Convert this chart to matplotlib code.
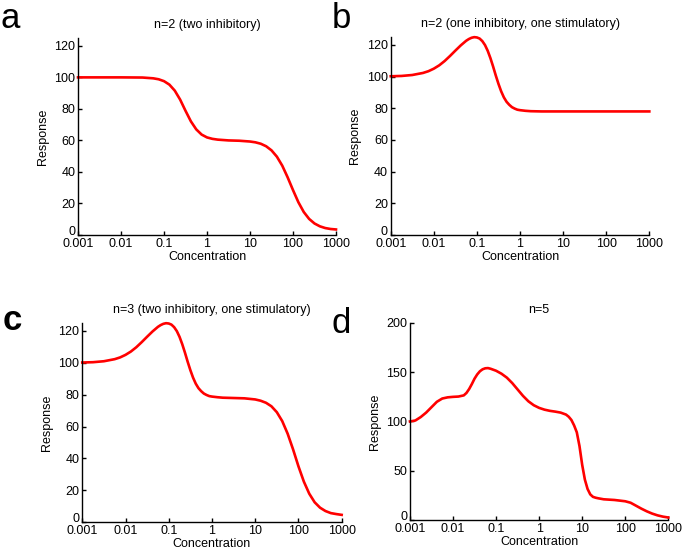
import numpy as np
import matplotlib
matplotlib.use('Agg')
import matplotlib.pyplot as plt
import matplotlib.transforms as mtransforms

# ---------------------- Data Zone ---------------------- #
# x positions are log10(concentration), responses read off the curves
log_conc_a = [-3, -2.5, -2, -1.5, -1.25, -1.125, -1, -0.875, -0.75, -0.625, -0.5, -0.375,
              -0.25, -0.125, 0, 0.125, 0.25, 0.5, 0.75, 1, 1.125, 1.25, 1.375, 1.5, 1.625,
              1.75, 1.875, 2, 2.125, 2.25, 2.375, 2.5, 2.625, 2.75, 2.875, 3]
resp_a = [100, 100, 100, 99.9, 99.4, 98.8, 97.6, 95.4, 91.6, 85.9, 78.8, 72.1,
          67.0, 63.7, 61.9, 61.0, 60.5, 60.0, 59.8, 59.3, 58.8, 57.9, 56.3, 53.7, 49.7,
          44.0, 36.6, 28.5, 20.8, 14.6, 10.2, 7.3, 5.5, 4.4, 3.8, 3.5]

log_conc_b = [-3, -2.75, -2.5, -2.25, -2.125, -2, -1.875, -1.75, -1.625, -1.5, -1.375, -1.25,
              -1.1875, -1.125, -1.0625, -1, -0.9375, -0.875, -0.8125, -0.75, -0.6875, -0.625,
              -0.5625, -0.5, -0.4375, -0.375, -0.3125, -0.25, -0.1875, -0.125, -0.0625, 0,
              0.125, 0.25, 0.5, 1, 1.5, 2, 2.5, 3]
resp_b = [100.2, 100.4, 101.0, 102.3, 103.4, 105.0, 107.1, 109.8, 113.0, 116.4, 119.7, 122.6,
          123.7, 124.5, 124.9, 124.7, 124.0, 122.4, 119.9, 116.3, 111.7, 106.4,
          100.7, 95.4, 90.7, 86.9, 84.1, 82.2, 80.7, 79.8, 79.1, 78.8,
          78.4, 78.15, 78.0, 78.0, 78.0, 78.0, 78.0, 78.0]

log_conc_c = [-3, -2.75, -2.5, -2.25, -2.125, -2, -1.875, -1.75, -1.625, -1.5, -1.375, -1.25,
              -1.1875, -1.125, -1.0625, -1, -0.9375, -0.875, -0.8125, -0.75, -0.6875, -0.625,
              -0.5625, -0.5, -0.4375, -0.375, -0.3125, -0.25, -0.1875, -0.125, -0.0625, 0,
              0.125, 0.25, 0.5, 0.75, 1, 1.125, 1.25, 1.375, 1.5, 1.625, 1.75, 1.875, 2,
              2.125, 2.25, 2.375, 2.5, 2.625, 2.75, 2.875, 3]
resp_c = [100.2, 100.4, 101.0, 102.3, 103.4, 105.0, 107.1, 109.8, 113.0, 116.4, 119.7, 122.6,
          123.7, 124.5, 124.9, 124.7, 124.0, 122.4, 119.9, 116.3, 111.7, 106.4,
          100.7, 95.4, 90.7, 86.9, 84.1, 82.2, 80.7, 79.8, 79.1, 78.8,
          78.4, 78.1, 77.9, 77.7, 77.0, 76.2, 74.9, 72.7, 69.0, 63.4, 55.5, 45.7, 35.0,
          25.4, 17.8, 12.4, 9.0, 6.9, 5.6, 5.0, 4.5]

log_conc_d = [-3, -2.875, -2.75, -2.625, -2.5, -2.375, -2.25, -2.125, -2, -1.875, -1.75,
              -1.6875, -1.625, -1.5625, -1.5, -1.4375, -1.375, -1.3125, -1.25, -1.1875, -1.125,
              -1, -0.875, -0.75, -0.625, -0.5, -0.375, -0.25, -0.125, 0, 0.125, 0.25, 0.375,
              0.5, 0.625, 0.6875, 0.75, 0.8125, 0.875, 0.9375, 1, 1.0625, 1.125, 1.1875, 1.25,
              1.3125, 1.375, 1.5, 1.75, 2, 2.125, 2.25, 2.375, 2.5, 2.625, 2.75, 2.875, 3]
resp_d = [100, 101, 104.5, 109, 114.5, 120, 123.3, 124.5, 125, 125.3, 126.5,
          129, 133, 138, 143.5, 147.8, 151, 153, 154, 154.2, 153.5,
          151.5, 148.5, 144.5, 139, 132.5, 126, 120.5, 116.5, 113.8, 112, 110.8, 110,
          109, 107, 104.8, 101.5, 96, 89, 75, 56, 41, 31.5, 26, 23.5,
          22.6, 22, 21, 20.3, 19, 17.5, 14.5, 11.5, 8.8, 6.5, 4.7, 3.4, 2.5]

titles = ['n=2 (two inhibitory)', 'n=2 (one inhibitory, one stimulatory)',
          'n=3 (two inhibitory, one stimulatory)', 'n=5']
letters = ['a', 'b', 'c', 'd']
xtick_vals = [0.001, 0.01, 0.1, 1, 10, 100, 1000]
xtick_labels = ['0.001', '0.01', '0.1', '1', '10', '100', '1000']

# ---------------------- Plot Zone ---------------------- #
plt.rcParams['font.family'] = ['Liberation Sans', 'DejaVu Sans']
fig = plt.figure(figsize=(6.85, 5.52), dpi=100)

# axes boxes in figure fractions [left, bottom, width, height]
boxes = [[0.1139, 0.5743, 0.3766, 0.3569],
         [0.5704, 0.5743, 0.3775, 0.3587],
         [0.1201, 0.0543, 0.3787, 0.3605],
         [0.5985, 0.0580, 0.3771, 0.3569]]
series = [(log_conc_a, resp_a), (log_conc_b, resp_b), (log_conc_c, resp_c), (log_conc_d, resp_d)]
ylims = [(0, 125), (0, 125), (0, 125), (0, 200)]
yticks = [np.arange(0, 121, 20)] * 3 + [np.arange(0, 201, 50)]

# small upward nudge for the "0" y label so it sits above "0.001"
zero_shift = mtransforms.ScaledTranslation(0, 0.045, fig.dpi_scale_trans)

for i in range(4):
    ax = fig.add_axes(boxes[i])
    lc, r = series[i]
    ax.plot(10.0 ** np.array(lc), r, color='red', linewidth=1.9, solid_joinstyle='round', clip_on=False)
    ax.set_xscale('log')
    ax.set_xlim(0.001, 1000)
    ax.set_ylim(*ylims[i])
    ax.set_xticks(xtick_vals)
    ax.set_xticklabels(xtick_labels)
    ax.xaxis.set_minor_locator(matplotlib.ticker.NullLocator())
    ax.set_yticks(yticks[i])
    ax.spines['top'].set_visible(False)
    ax.spines['right'].set_visible(False)
    for s in ['left', 'bottom']:
        ax.spines[s].set_linewidth(1.0)
    ax.tick_params(direction='in', length=3, width=1.0, labelsize=9, pad=2)
    ax.set_xlabel('Concentration', fontsize=9, labelpad=1)
    ax.set_ylabel('Response', fontsize=9, labelpad=4)
    ax.set_title(titles[i], fontsize=9, pad=7)
    zero_lbl = ax.get_yticklabels()[0]
    zero_lbl.set_transform(zero_lbl.get_transform() + zero_shift)

# panel letters
letter_pos = [(0.0, 0.949), (0.484, 0.949), (0.004, 0.402), (0.484, 0.397)]
letter_weight = ['normal', 'normal', 'bold', 'normal']
for (x, y), t, w in zip(letter_pos, letters, letter_weight):
    fig.text(x, y, t, fontsize=25, fontweight=w, ha='left', va='baseline')

fig.savefig('out.png', dpi=100)
